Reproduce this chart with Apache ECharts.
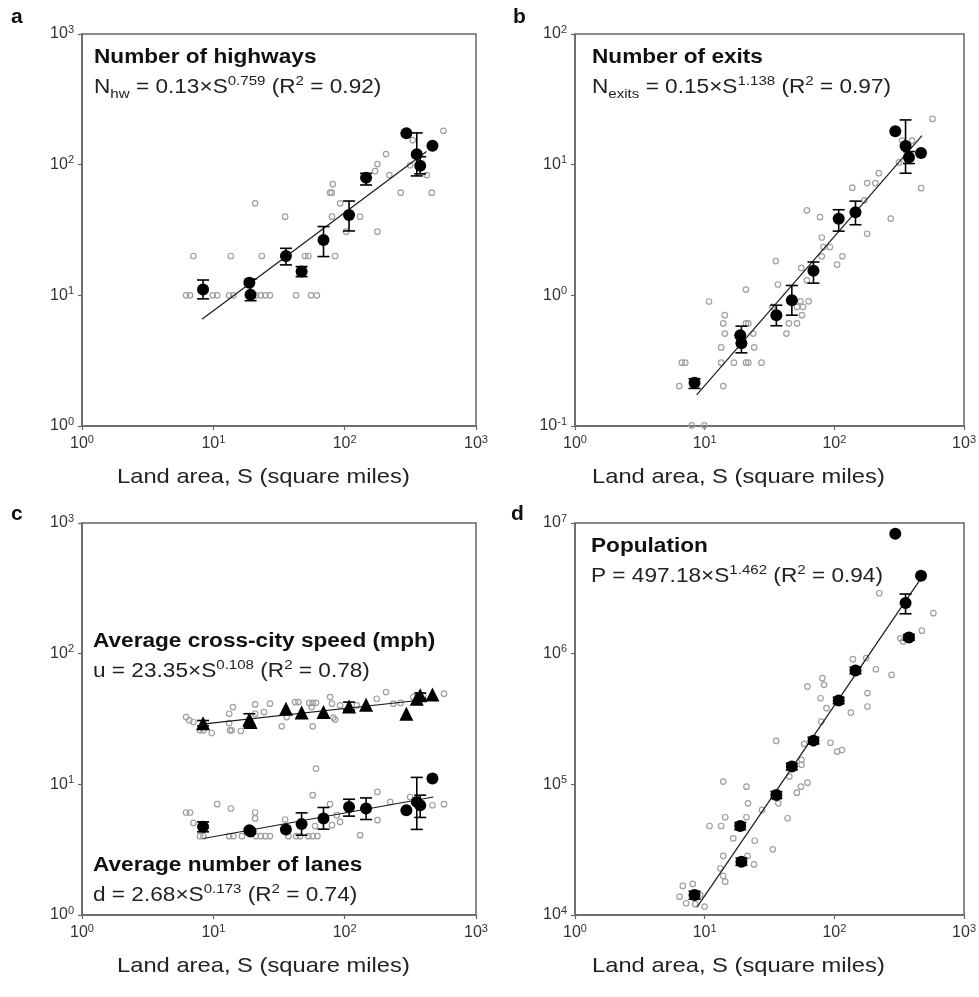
<!DOCTYPE html>
<html>
<head>
<meta charset="utf-8">
<script src="https://cdn.jsdelivr.net/npm/echarts@6/dist/echarts.min.js"></script>
<style>
html,body{margin:0;padding:0;background:#fff;}
#chart{width:979px;height:997px;}
</style>
</head>
<body>
<div id="chart"></div>
<script>
// ---- Data ----
// Land area S (square miles) of the 12 large cities (black markers)
const cityS = [8.35, 18.8, 19.2, 35.7, 47, 69, 108, 145.5, 295, 354, 376, 466];

// Panel a: number of highways
const hwCity = [11.1, 12.5, 10.1, 20.0, 15.2, 26.5, 41.2, 79.5, 173.7, 120, 98.2, 139.8];
const hwErr = [[9.4, 13.1], null, [9.1, 13.3], [17.1, 22.9], [13.9, 16.6], [19.8, 33.6], [31.1, 52.7], [69.9, 85.8], null, [82, 175], [85, 115], null];
const hwOther = [[6.2,10],[6.65,10],[9.9,10],[10.7,10],[13.2,10],[14.2,10],[21.1,10],[23,10],[24.9,10],[27,10],[42.7,10],[55.5,10],[61.4,10],
  [7.05,20],[13.6,20],[23.4,20],[49.9,20],[52.9,20],[84.5,20],
  [20.8,50.6],[35.2,40],[77.4,61],[79.8,61],[81.2,71],[92.3,50.6],[80,40],[131,40],[102.5,30.7],[177.5,30.7],[170.5,89.3],[177.5,101],[206.6,120.5],[219,83.3],[267,61],[460,61],[330,154],[565,181.7],[315,99],[422,83.3]];
const hwFit = [[8.2, 6.55], [420, 126]];

// Panel b: number of exits
const exCity = [0.214, 0.495, 0.429, 0.705, 0.918, 1.54, 3.85, 4.33, 18.0, 13.9, 11.4, 12.3];
const exErr = [[0.194, 0.230], null, [0.363, 0.581], [0.585, 0.84], [0.705, 1.19], [1.24, 1.80], [3.10, 4.52], [3.47, 5.26], null, [8.6, 22.0], [10.2, 12.6], null];
const exOther = [[6.37,0.202],[6.67,0.305],[7.08,0.305],[13.9,0.202],[10.8,0.897],[14.3,0.705],[13.9,0.61],[14.3,0.51],[13.4,0.399],[13.4,0.305],[16.8,0.305],[20.8,0.305],[21.7,0.305],[27.4,0.305],[20.8,1.107],[20.8,0.61],[21.7,0.61],[23.7,0.51],[24.1,0.399],[35.3,1.83],[36.7,1.21],[33.3,0.815],[42.7,0.51],[44.6,0.61],[51.5,0.61],[51.5,0.815],[57.3,0.815],[54.7,0.90],[63.3,0.90],[56.3,0.705],[55.6,1.62],[61.4,1.30],[61.4,4.47],[77.6,3.97],[80,2.77],[82.3,2.34],[92.4,2.34],[80,1.99],[115.4,1.99],[105,1.72],[137.5,6.67],[179,7.23],[207,7.23],[220,8.61],[170.6,5.33],[179,2.96],[272,3.86],[334,15.3],[398,15.3],[315,10.4],[467,6.61],[572,22.4],[7.95,0.101],[9.93,0.101]];
const exFit = [[8.68, 0.173], [474, 16.7]];

// Panel c: average speed (triangles) and average number of lanes (circles)
const spCity = [29.4, 31.3, 30.0, 37.9, 35.4, 35.7, 39.5, 40.7, 34.7, 45.2, 48.0, 48.8];
const spErr = [[28.0, 30.8], [27.5, 34.7], null, null, null, null, [37.0, 42.6], null, null, null, [45.5, 50.0], null];
const spOther = [[6.2,32.7],[6.56,30.9],[7.05,30.0],[7.92,25.9],[8.4,25.9],[9.72,24.7],[13.4,25.9],[13.8,25.9],[16.2,25.6],[13.2,34.7],[14.1,39.0],[13.2,29.4],[20.8,40.9],[20.8,34.7],[24.3,35.7],[27,41.4],[33.2,27.8],[36.2,32.7],[41.9,42.6],[44.4,42.6],[53.8,42],[57.1,42],[60.5,42],[56.1,39],[77.4,46.5],[80,41.4],[82,32.4],[84.5,31.3],[57.1,27.8],[92.3,40.2],[123.7,40.2],[175.5,45.2],[206.6,50.8],[235,41.4],[267,42],[333,46.5],[397,47.8],[571,49.4]];
const spFit = [[7.9, 28.8], [474, 45.2]];

const lnCity = [4.73, 4.45, 4.35, 4.52, 4.96, 5.48, 6.72, 6.53, 6.34, 7.34, 6.92, 11.1];
const lnErr = [[4.33, 5.16], null, null, null, [4.08, 6.05], [4.54, 6.65], [5.71, 7.69], [5.38, 7.87], null, [4.52, 11.3], [5.58, 8.26], null];
const lnOther = [[6.2,6.09],[6.65,6.09],[7.05,5.07],[10.7,7.05],[13.6,6.53],[20.8,6.09],[20.8,5.48],[7.92,4.01],[8.4,4.01],[13.2,4.01],[14.2,4.01],[16.5,4.01],[21.1,4.01],[23,4.01],[24.9,4.01],[27,4.01],[35.2,5.38],[37.3,4.01],[42.7,4.01],[45.7,4.01],[52.9,4.01],[57.1,4.01],[62,4.01],[60.5,13.2],[57.1,8.26],[59.5,4.79],[77.4,7.05],[80,4.87],[92.3,5.16],[87,5.81],[131,4.08],[177.5,8.75],[177.5,5.32],[222,7.34],[466,6.92],[571,7.05],[315,8.0]];
const lnFit = [[8.4, 3.85], [474, 8.0]];

// Panel d: population
const popCity = [14200, 48000, 25600, 83000, 137000, 216000, 438000, 743000, 8.28e6, 2.44e6, 1.33e6, 3.95e6];
const popErr = [[13200, 15200], [45000, 51000], [24000, 27300], [78000, 88000], [129000, 145000], [204000, 229000], [414000, 463000], [702000, 786000], null, [2.02e6, 2.86e6], [1.27e6, 1.40e6], null];
const popOther = [[6.78,16700],[8.09,17300],[6.4,13800],[7.19,12300],[8.47,12100],[9.98,11600],[9.25,14200],[13.9,28300],[13.2,22800],[13.9,19900],[14.4,18000],[16.6,38600],[14.4,56000],[10.9,48000],[13.4,48000],[13.9,105000],[21,95900],[21,56000],[21.6,71600],[21.4,28300],[24.3,37000],[24,24400],[33.5,31800],[27.7,63700],[35.6,215000],[37,71600],[43.6,55000],[45,114600],[51.4,86300],[55.2,95900],[62,103000],[55.8,141000],[55.8,154000],[58.5,204000],[79.3,302000],[87,383000],[78.3,456000],[80.7,649000],[83.2,577000],[62,560000],[93.4,208000],[105,178000],[114.6,183000],[134,354000],[139,908000],[176,925000],[180,499000],[180,394000],[209,760000],[276,688000],[222,2.9e6],[323,1.31e6],[339,1.24e6],[473,1.5e6],[580,2.04e6]];
const popFit = [[8.73, 11500], [460, 3.7e6]];

// Axis ranges (powers of ten)
const xRange = [1, 1000];
const yRanges = [[1, 1000], [0.1, 100], [1, 1000], [1e4, 1e7]];
const xName = 'Land area, S (square miles)';

// ---- Chart ----
const FONT = '"Liberation Sans", Arial, Helvetica, sans-serif';
const SX = 1.16; // horizontal stretch of the reference lettering
const chart = echarts.init(document.getElementById('chart'), null, {renderer: 'canvas'});

const grids = [
  {left: 82, top: 34, width: 394, height: 392},
  {left: 575, top: 34, width: 394, height: 392},
  {left: 82, top: 523, width: 394, height: 392},
  {left: 575, top: 523, width: 394, height: 392}
];

const supLabel = {
  formatter: function (v) { return '{b|10}{s|' + Math.round(Math.log10(v)) + '}'; },
  rich: {
    b: {fontSize: 16, color: '#333', fontFamily: FONT, lineHeight: 20},
    s: {fontSize: 11, color: '#333', fontFamily: FONT, lineHeight: 11, verticalAlign: 'top'}
  }
};
const axisLineStyle = {show: true, lineStyle: {color: '#666', width: 1.5}};
const tickStyle = {show: true, inside: false, length: 4, lineStyle: {color: '#666', width: 1.2}};

const xAxes = grids.map((g, i) => ({
  type: 'log', logBase: 10, gridIndex: i, min: xRange[0], max: xRange[1],
  axisLine: axisLineStyle, axisTick: tickStyle, splitLine: {show: false}, minorTick: {show: false},
  axisLabel: Object.assign({margin: 8}, supLabel)
}));
const yAxes = grids.map((g, i) => ({
  type: 'log', logBase: 10, gridIndex: i, min: yRanges[i][0], max: yRanges[i][1],
  axisLine: axisLineStyle, axisTick: tickStyle, splitLine: {show: false}, minorTick: {show: false},
  axisLabel: Object.assign({margin: 8}, supLabel)
}));

function pairs(ys) { return cityS.map((s, i) => [s, ys[i]]); }
function errData(errs) {
  const out = [];
  errs.forEach((e, i) => { if (e) out.push([cityS[i], e[0], e[1]]); });
  return out;
}
function grayScatter(data, idx) {
  return {type: 'scatter', xAxisIndex: idx, yAxisIndex: idx, data: data, symbol: 'circle', symbolSize: 5.5,
    itemStyle: {color: 'rgba(0,0,0,0)', borderColor: '#a0a0a0', borderWidth: 1.2, opacity: 1}, z: 1, silent: true};
}
function fitLine(data, idx) {
  return {type: 'line', xAxisIndex: idx, yAxisIndex: idx, data: data, showSymbol: false, symbol: 'none',
    lineStyle: {color: '#1a1a1a', width: 1.2}, z: 2, silent: true};
}
function errBars(data, idx) {
  return {type: 'custom', xAxisIndex: idx, yAxisIndex: idx, data: data, z: 3, silent: true,
    encode: {x: 0, y: [1, 2]},
    renderItem: function (params, api) {
      const x = api.value(0), lo = api.value(1), hi = api.value(2);
      const pHi = api.coord([x, hi]), pLo = api.coord([x, lo]);
      const hw = 6;
      const st = {stroke: '#000', lineWidth: 1.6};
      return {type: 'group', children: [
        {type: 'line', shape: {x1: pHi[0], y1: pHi[1], x2: pLo[0], y2: pLo[1]}, style: st},
        {type: 'line', shape: {x1: pHi[0] - hw, y1: pHi[1], x2: pHi[0] + hw, y2: pHi[1]}, style: st},
        {type: 'line', shape: {x1: pLo[0] - hw, y1: pLo[1], x2: pLo[0] + hw, y2: pLo[1]}, style: st}
      ]};
    }};
}
function blackScatter(data, idx, sym, size) {
  return {type: 'scatter', xAxisIndex: idx, yAxisIndex: idx, data: data, symbol: sym || 'circle',
    symbolSize: size || 12, itemStyle: {color: '#000', opacity: 1}, z: 4, silent: true};
}

const series = [
  grayScatter(hwOther, 0), fitLine(hwFit, 0), errBars(errData(hwErr), 0), blackScatter(pairs(hwCity), 0),
  grayScatter(exOther, 1), fitLine(exFit, 1), errBars(errData(exErr), 1), blackScatter(pairs(exCity), 1),
  grayScatter(spOther, 2), grayScatter(lnOther, 2), fitLine(spFit, 2), fitLine(lnFit, 2),
  errBars(errData(spErr), 2), errBars(errData(lnErr), 2),
  blackScatter(pairs(spCity), 2, 'triangle', 14), blackScatter(pairs(lnCity), 2),
  grayScatter(popOther, 3), fitLine(popFit, 3), errBars(errData(popErr), 3), blackScatter(pairs(popCity), 3)
];

const richF = {
  sup: {fontSize: 13, fontFamily: FONT, fill: '#222', lineHeight: 13, verticalAlign: 'top'},
  sub: {fontSize: 13, fontFamily: FONT, fill: '#222', lineHeight: 13, verticalAlign: 'bottom'}
};
function titleText(x, y, str) {
  return {type: 'text', x: x, y: y, scaleX: SX, z: 10, silent: true,
    style: {text: str, fontSize: 19.5, fontWeight: 'bold', fontFamily: FONT, fill: '#111', verticalAlign: 'middle', align: 'left'}};
}
function formulaText(x, y, str) {
  return {type: 'text', x: x, y: y, scaleX: SX, z: 10, silent: true,
    style: {text: str, fontSize: 19.5, fontFamily: FONT, fill: '#222', lineHeight: 26, verticalAlign: 'middle', align: 'left', rich: richF}};
}
function axisNameText(x, y) {
  return {type: 'text', x: x, y: y, scaleX: 1.13, z: 10, silent: true,
    style: {text: xName, fontSize: 21, fontFamily: FONT, fill: '#222', verticalAlign: 'middle', align: 'left'}};
}
function letter(x, y, str) {
  return {type: 'text', x: x, y: y, z: 10, silent: true,
    style: {text: str, fontSize: 21, fontWeight: 'bold', fontFamily: FONT, fill: '#111', verticalAlign: 'middle', align: 'left'}};
}

const graphic = [
  letter(11, 17, 'a'), letter(513, 17, 'b'), letter(11, 514, 'c'), letter(511, 514, 'd'),
  titleText(94, 58, 'Number of highways'),
  formulaText(94, 88, 'N{sub|hw} = 0.13×S{sup|0.759} (R{sup|2} = 0.92)'),
  titleText(592, 58, 'Number of exits'),
  formulaText(592, 88, 'N{sub|exits} = 0.15×S{sup|1.138} (R{sup|2} = 0.97)'),
  titleText(93, 642, 'Average cross-city speed (mph)'),
  formulaText(93, 672, 'u = 23.35×S{sup|0.108} (R{sup|2} = 0.78)'),
  titleText(93, 866, 'Average number of lanes'),
  formulaText(93, 896, 'd = 2.68×S{sup|0.173} (R{sup|2} = 0.74)'),
  titleText(591, 547, 'Population'),
  formulaText(591, 577, 'P = 497.18×S{sup|1.462} (R{sup|2} = 0.94)'),
  axisNameText(117, 477), axisNameText(592, 477), axisNameText(117, 966), axisNameText(592, 966)
];

chart.setOption({
  animation: false,
  backgroundColor: '#fff',
  textStyle: {fontFamily: FONT},
  grid: grids.map(g => Object.assign({show: true, borderColor: '#666', borderWidth: 1.5, backgroundColor: 'transparent'}, g)),
  xAxis: xAxes,
  yAxis: yAxes,
  series: series,
  graphic: graphic
});
</script>
</body>
</html>
